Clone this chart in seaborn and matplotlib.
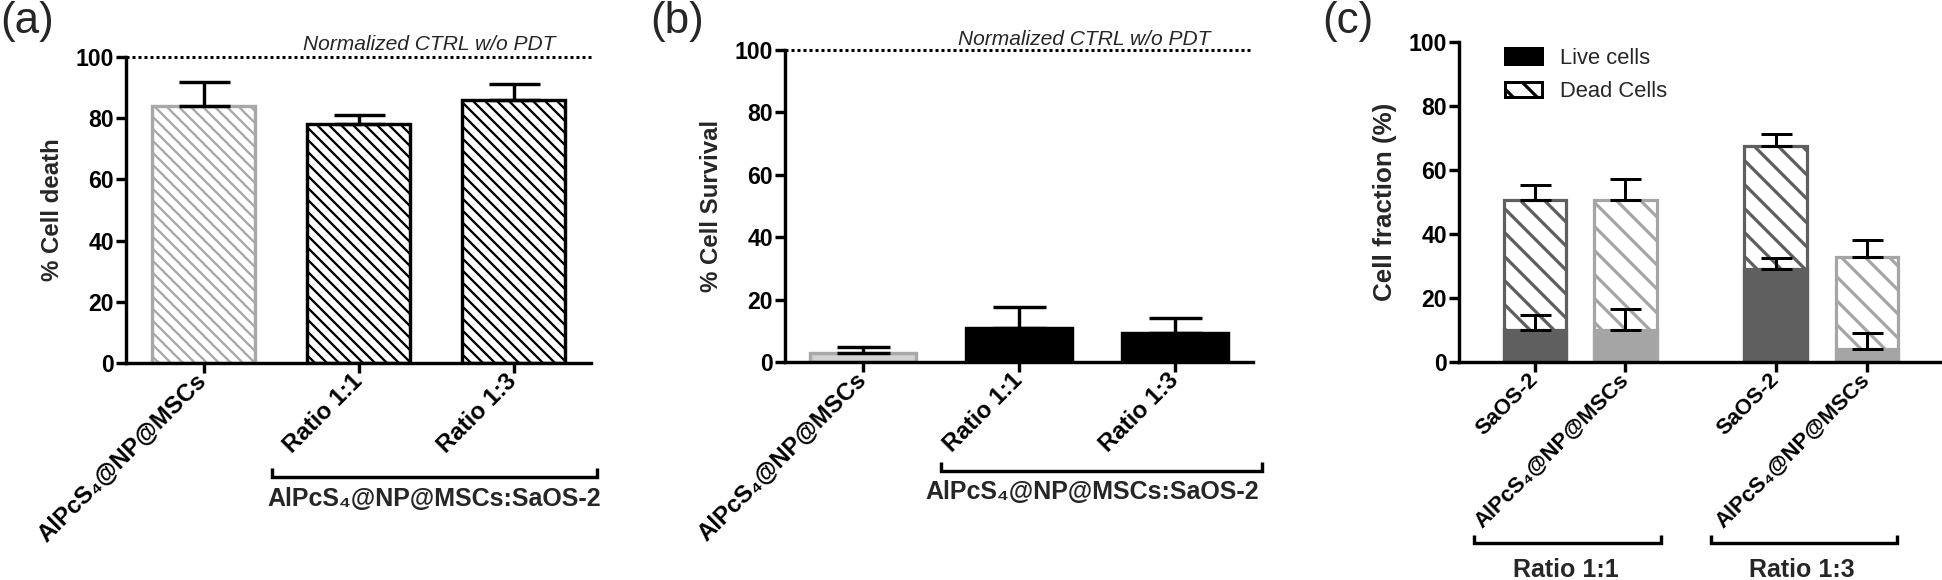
import matplotlib
matplotlib.use('Agg')
import matplotlib.pyplot as plt
import matplotlib.transforms as mtransforms
from matplotlib.patches import Patch
import numpy as np
import seaborn as sns

W, H, DPI = 1942, 580, 72


def pt(px):
    # pixel size -> points at the output dpi
    return px * 72 / DPI


# ---- data ----
# (a) cell death after PDT
a_groups = ['AlPcS₄@NP@MSCs', 'Ratio 1:1', 'Ratio 1:3']
a_death = [84.0, 78.1, 86.0]
a_death_sd = [7.7, 2.9, 5.1]

# (b) cell survival after PDT
b_groups = ['AlPcS₄@NP@MSCs', 'Ratio 1:1', 'Ratio 1:3']
b_survival = [2.9, 10.9, 9.3]
b_survival_sd = [1.9, 6.7, 4.8]

# (c) live / dead fractions in co-culture
c_labels = ['SaOS-2', 'AlPcS₄@NP@MSCs', 'SaOS-2', 'AlPcS₄@NP@MSCs']
c_cell = ['SaOS-2', 'MSCs', 'SaOS-2', 'MSCs']
c_pos = [0, 1, 2.66, 3.67]
c_live = [10.0, 10.0, 29.1, 4.1]
c_live_sd = [4.7, 6.6, 3.4, 4.9]
c_total = [50.5, 50.5, 67.5, 32.8]
c_total_sd = [4.8, 6.6, 3.6, 5.3]
c_ratios = ['Ratio 1:1', 'Ratio 1:3']

group_label = 'AlPcS₄@NP@MSCs:SaOS-2'
ctrl_label = 'Normalized CTRL w/o PDT'

sns.set_style('ticks')
plt.rcParams['font.family'] = ['Liberation Sans', 'DejaVu Sans']
plt.rcParams['font.weight'] = 'bold'
plt.rcParams['axes.linewidth'] = pt(3.4)
plt.rcParams['axes.edgecolor'] = 'black'

fig = plt.figure(figsize=(W / DPI, H / DPI), dpi=DPI)


def add_ax(left, right, top, bottom):
    return fig.add_axes([left / W, 1 - bottom / H, (right - left) / W, (bottom - top) / H])


def style(ax, ylabel, labelsize, ylabelsize):
    sns.despine(ax=ax)
    ax.set_ylim(0, 100)
    ax.set_yticks([0, 20, 40, 60, 80, 100])
    ax.tick_params(width=pt(3.4), length=pt(10), pad=pt(2), colors='black')
    ax.tick_params(axis='y', labelsize=pt(23))
    ax.tick_params(axis='x', labelsize=pt(labelsize), pad=pt(5))
    ax.set_ylabel(ylabel, fontsize=pt(ylabelsize), fontweight='bold', labelpad=pt(12))
    for lab in ax.get_xticklabels():
        lab.set_rotation(45)
        lab.set_ha('right')
        lab.set_va('center')
        lab.set_rotation_mode('anchor')


def bracket(ax, x0, x1, y, h, text, tx, ty, va='center'):
    tr = mtransforms.blended_transform_factory(ax.transData, ax.transAxes)
    ax.plot([x0, x0, x1, x1], [y + h, y, y, y + h], transform=tr, clip_on=False,
            color='black', lw=pt(3.4), solid_capstyle='butt', solid_joinstyle='miter')
    ax.text(tx, ty, text, transform=tr, ha='center', va=va,
            fontsize=pt(25), fontweight='bold')


def ctrl_line(ax, xr, dy):
    ax.axhline(100, color='black', ls=(0, (1, 1)), lw=pt(3), clip_on=False)
    ax.text(xr, 1 + dy, ctrl_label, transform=ax.transAxes, ha='right', va='baseline',
            fontsize=pt(21), fontweight='normal', style='italic')


# ---------- (a) ----------
plt.rcParams['hatch.linewidth'] = pt(2.3)
ax = add_ax(126, 591, 57, 363)
a_edge = ['#a8a8a8', 'black', 'black']
sns.barplot(x=a_groups, y=a_death, hue=a_groups, palette=a_edge, legend=False,
            width=0.67, saturation=1, errorbar=None, ax=ax)
for p in ax.patches:
    p.set_edgecolor(p.get_facecolor())
    p.set_facecolor('white')
    p.set_hatch('\\\\')
    p.set_linewidth(pt(3.4))
ax.errorbar(range(3), a_death, yerr=[np.zeros(3), a_death_sd], fmt='none',
            ecolor='black', elinewidth=pt(3.4), capsize=pt(25.5), capthick=pt(3.4))
ax.set_xlim(-0.5, 2.5)
ax.set_xticks(range(3))
ax.set_xticklabels(a_groups)
style(ax, '% Cell death', 24, 24)
ctrl_line(ax, 0.923, 0.023)
bracket(ax, 0.44, 2.54, -0.374, 0.03, group_label, 1.49, -0.443)

# ---------- (b) ----------
ax = add_ax(785, 1253, 50, 362)
b_face = ['#d2d2d2', 'black', 'black']
b_edge = ['#a8a8a8', 'black', 'black']
sns.barplot(x=b_groups, y=b_survival, hue=b_groups, palette=b_face, legend=False,
            width=0.68, saturation=1, errorbar=None, ax=ax)
for p, ec in zip(ax.patches, b_edge):
    p.set_edgecolor(ec)
    p.set_linewidth(pt(3.4))
ax.errorbar(range(3), b_survival, yerr=[np.zeros(3), b_survival_sd], fmt='none',
            ecolor='black', elinewidth=pt(3.4), capsize=pt(26.5), capthick=pt(3.4))
ax.set_xlim(-0.5, 2.5)
ax.set_xticks(range(3))
ax.set_xticklabels(b_groups)
style(ax, '% Cell Survival', 24, 24)
ctrl_line(ax, 0.91, 0.016)
bracket(ax, 0.5, 2.56, -0.35, 0.029, group_label, 1.47, -0.417)

# ---------- (c) ----------
plt.rcParams['hatch.linewidth'] = pt(3.2)
ax = add_ax(1459, 1942, 42, 362)
c_pal = {'SaOS-2': '#5f5f5f', 'MSCs': '#a5a5a5'}
sns.barplot(x=c_pos, y=c_total, hue=c_cell, palette=c_pal, legend=False, dodge=False,
            native_scale=True, width=0.69, saturation=1, errorbar=None, ax=ax)
n_dead = len(ax.patches)
for p in ax.patches:
    p.set_edgecolor(p.get_facecolor())
    p.set_facecolor('white')
    p.set_hatch('\\')
    p.set_linewidth(pt(3.2))
sns.barplot(x=c_pos, y=c_live, hue=c_cell, palette=c_pal, legend=False, dodge=False,
            native_scale=True, width=0.69, saturation=1, errorbar=None, ax=ax)
for p in ax.patches[n_dead:]:
    p.set_edgecolor(p.get_facecolor())
    p.set_linewidth(pt(3.2))
ax.errorbar(c_pos, c_total, yerr=[np.zeros(4), c_total_sd], fmt='none',
            ecolor='black', elinewidth=pt(3), capsize=pt(15.5), capthick=pt(3))
ax.errorbar(c_pos, c_live, yerr=[np.zeros(4), c_live_sd], fmt='none',
            ecolor='black', elinewidth=pt(3), capsize=pt(15.5), capthick=pt(3))
ax.set_xlim(-0.84, 4.5)
ax.set_xticks(c_pos)
ax.set_xticklabels(c_labels)
style(ax, 'Cell fraction (%)', 22, 26)
handles = [Patch(facecolor='black', edgecolor='black', lw=pt(3)),
           Patch(facecolor='white', edgecolor='black', hatch='\\', lw=pt(3))]
ax.legend(handles, ['Live cells', 'Dead Cells'], loc='upper left',
          bbox_to_anchor=(0.072, 1.016), frameon=False, borderpad=0,
          handlelength=1.7, handleheight=0.7, handletextpad=0.8, labelspacing=0.55,
          prop={'size': pt(22), 'weight': 'normal'})
bracket(ax, -0.67, 1.39, -0.566, 0.025, c_ratios[0], 0.34, -0.612, va='top')
bracket(ax, 1.95, 4.0, -0.566, 0.025, c_ratios[1], 2.95, -0.612, va='top')

# panel letters
for x, letter in [(0, '(a)'), (650, '(b)'), (1322, '(c)')]:
    fig.text(x / W, 0.998, letter, ha='left', va='top', fontsize=pt(44), fontweight='normal')

fig.savefig('out.png', dpi=DPI)
